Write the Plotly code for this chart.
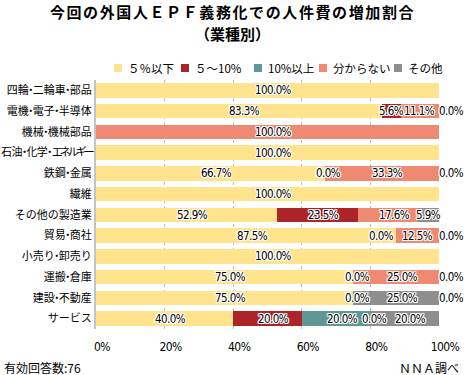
import plotly.graph_objects as go

categories = ["四輪・二輪車・部品", "電機・電子・半導体", "機械・機械部品", "石油・化学・エネルギー",
              "鉄鋼・金属", "繊維", "その他の製造業", "貿易・商社", "小売り・卸売り",
              "運搬・倉庫", "建設・不動産", "サービス"]

series_names = ["５％以下", "５～10%", "10%以上", "分からない", "その他"]
series_colors = ["#FFE48D", "#AC2328", "#5F9696", "#EF8A72", "#8E8E8E"]

v_le5 = [100, 83.3, 0, 100, 66.7, 100, 52.9, 87.5, 100, 75.0, 75.0, 40.0]
v_5to10 = [0, 5.6, 0, 0, 0, 0, 23.5, 0, 0, 0, 0, 20.0]
v_ge10 = [0, 0, 0, 0, 0, 0, 0, 0, 0, 0, 0, 20.0]
v_unknown = [0, 11.1, 100, 0, 33.3, 0, 17.6, 12.5, 0, 25.0, 0, 0]
v_other = [0, 0, 0, 0, 0, 0, 5.9, 0, 0, 0, 25.0, 20.0]

# which segment labels are shown (1 = show)
show_le5 = [1, 1, 0, 1, 1, 1, 1, 1, 1, 1, 1, 1]
show_5to10 = [0, 1, 0, 0, 1, 0, 1, 1, 0, 1, 1, 1]
show_ge10 = [0, 0, 0, 0, 0, 0, 0, 0, 0, 0, 0, 1]
show_unknown = [0, 1, 1, 0, 1, 0, 1, 1, 0, 1, 0, 1]
show_other = [0, 1, 0, 0, 1, 0, 1, 1, 0, 1, 1, 1]
end_zero = [0, 0, 0, 0, 0, 0, 0, 0, 0, 0, 1, 0]

x_ticks = [0, 20, 40, 60, 80, 100]
x_ticklabels = ["0%", "20%", "40%", "60%", "80%", "100%"]

title_line1 = "今回の外国人ＥＰＦ義務化での人件費の増加割合"
title_line2 = "（業種別）"

values = [v_le5, v_5to10, v_ge10, v_unknown, v_other]
shows = [show_le5, show_5to10, show_ge10, show_unknown, show_other]

CJK = "Noto Sans CJK JP"
NUM = "DejaVu Sans Condensed, Liberation Sans Narrow, sans-serif"
HALO = ("1px 1px 0 #fff, -1px -1px 0 #fff, 1px -1px 0 #fff, -1px 1px 0 #fff, "
        "0 1px 0 #fff, 0 -1px 0 #fff, 1px 0 0 #fff, -1px 0 0 #fff")

# plot area in pixels
L, R, T, B = 96, 439, 80, 329
W, H = R - L, B - T


def px(xp):
    return (xp - L) / W


def py(yp):
    return (B - yp) / H


KANA_NARROW = set("エネルギー")


def fmt_cat(c):
    out = ""
    chars = list(c)
    long_label = len(chars) > 10
    for k, ch in enumerate(chars):
        if ch == "・" or (k + 1 < len(chars) and chars[k + 1] == "・"):
            out += f'<span style="letter-spacing:-3.5px">{ch}</span>'
        elif long_label and ch in KANA_NARROW:
            out += f'<span style="letter-spacing:-3px">{ch}</span>'
        elif long_label:
            out += f'<span style="letter-spacing:-0.6px">{ch}</span>'
        else:
            out += ch
    return out


def num(t):
    return f'<span style="letter-spacing:-0.6px">{t}</span>'


fig = go.Figure()
for name, col, vals in zip(series_names, series_colors, values):
    fig.add_trace(go.Bar(y=categories, x=vals, name=name, orientation="h",
                         marker=dict(color=col, line=dict(width=0)),
                         hoverinfo="skip", showlegend=False))

annotations = []
for j, cat in enumerate(categories):
    cum = 0.0
    for i in range(5):
        v = values[i][j]
        if shows[i][j]:
            txt = num(f"{v:.1f}%")
            if v == 0 and cum >= 99.9:
                annotations.append(dict(x=100, y=cat, text=txt, xanchor="left", xshift=-2))
            elif v == 0:
                nxt = next((values[k][j] for k in range(i + 1, 5) if values[k][j] > 0), 100)
                if nxt < 15:
                    annotations.append(dict(x=cum, y=cat, text=txt, xanchor="right"))
                else:
                    annotations.append(dict(x=cum, y=cat, text=txt, xanchor="center", xshift=4))
            else:
                annotations.append(dict(x=cum + v / 2, y=cat, text=txt, xanchor="center",
                                        xshift=6 if v >= 15 else 0))
        cum += v
    if end_zero[j]:
        annotations.append(dict(x=100, y=cat, text=num("0.0%"), xanchor="left", xshift=-2))

for a in annotations:
    a["font"] = dict(family=NUM, size=11.5, color="#000", shadow=HALO)
    a["yanchor"] = "middle"
    a["showarrow"] = False

# legend (drawn manually to match the compact layout)
legend_sq_x = [118, 185, 258, 323, 398]
legend_y = 68
shapes = []
for name, col, sx in zip(series_names, series_colors, legend_sq_x):
    shapes.append(dict(type="rect", xref="paper", yref="paper",
                       x0=px(sx - 4), x1=px(sx + 4), y0=py(legend_y + 4), y1=py(legend_y - 4),
                       fillcolor=col, line=dict(width=0)))
    annotations.append(dict(xref="paper", yref="paper", x=px(sx + 8), y=py(legend_y),
                            xanchor="left", yanchor="middle", text=name, showarrow=False,
                            font=dict(family=CJK, size=11.5, color="#000")))

# second title line
annotations.append(dict(xref="paper", yref="paper", x=px(232.5), y=py(33.5), xanchor="center",
                        yanchor="middle", text=f"<b>{title_line2}</b>", showarrow=False,
                        font=dict(family=CJK, size=15, color="#000")))

annotations.append(dict(xref="paper", yref="paper", x=px(2), y=py(367), xanchor="left",
                        yanchor="middle", text="有効回答数:76", showarrow=False,
                        font=dict(family=CJK, size=12, color="#000")))
annotations.append(dict(xref="paper", yref="paper", x=px(461), y=py(367), xanchor="right",
                        yanchor="middle", text="ＮＮＡ調べ", showarrow=False,
                        font=dict(family=CJK, size=12, color="#000")))

fig.update_layout(
    width=465, height=375,
    margin=dict(l=L, r=465 - R, t=T, b=375 - B, autoexpand=False),
    paper_bgcolor="white", plot_bgcolor="white",
    barmode="stack", bargap=0.3,
    title=dict(text=f'<b><span style="letter-spacing:1.6px">{title_line1}</span></b>',
               x=0.5, xanchor="center", y=1 - 12.5 / 375, yanchor="middle",
               font=dict(family=CJK, size=15, color="#000")),
    xaxis=dict(range=[0, 100], tickvals=x_ticks, ticktext=[num(t) for t in x_ticklabels],
               showgrid=True, gridcolor="#BDBDBD", griddash="dot", gridwidth=1,
               zeroline=False, showline=False, ticks="", ticklabelshift=6,
               ticklabelstandoff=9,
               tickfont=dict(family=NUM, size=12, color="#000"), fixedrange=True),
    yaxis=dict(categoryorder="array", categoryarray=categories, autorange="reversed",
               tickvals=categories, ticktext=[fmt_cat(c) for c in categories],
               showline=True, linecolor="#C4C4C4", linewidth=2, ticks="",
               tickfont=dict(family=CJK, size=11, color="#000"), fixedrange=True),
    annotations=annotations,
    shapes=shapes,
    showlegend=False,
)

fig.write_html("out.html", config={"displayModeBar": False},
               post_script="document.body.style.margin='0px';")
